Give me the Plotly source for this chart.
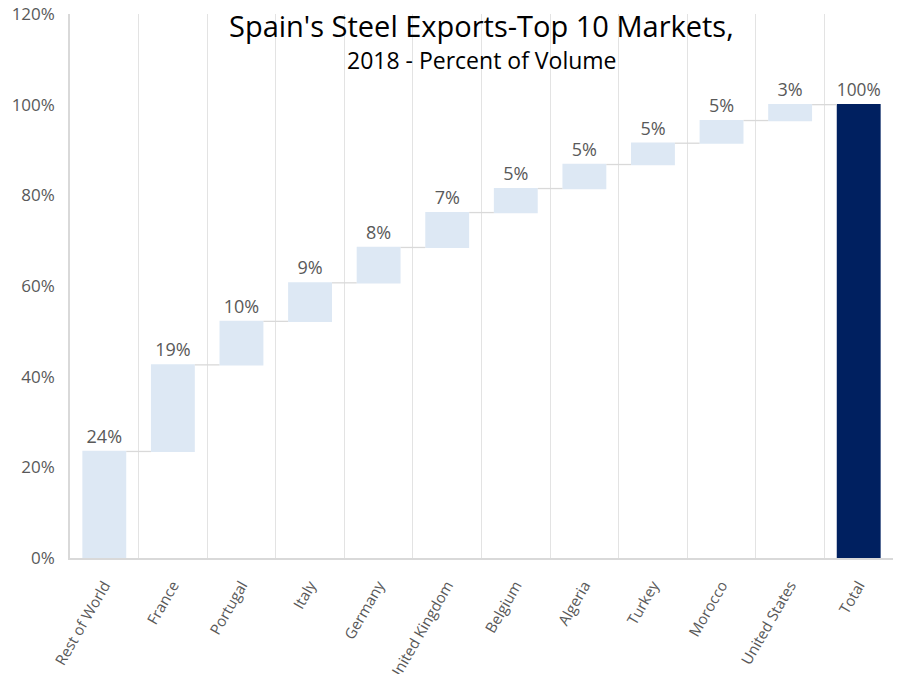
import plotly.graph_objects as go

categories = ["Rest of World", "France", "Portugal", "Italy", "Germany", "United Kingdom",
              "Belgium", "Algeria", "Turkey", "Morocco", "United States", "Total"]
shares = [23.5, 19.1, 9.6, 8.5, 7.8, 7.7, 5.3, 5.3, 4.7, 5.0, 3.5, None]
labels = ["24%", "19%", "10%", "9%", "8%", "7%", "5%", "5%", "5%", "5%", "3%", "100%"]
measures = ["relative"] * 11 + ["total"]

y_vals = [v if v is not None else 0 for v in shares]

FONT = "Open Sans, sans-serif"

M_L, M_R, M_T, M_B = 70, 8, 14, 116
PLOT_H = 674 - M_T - M_B

fig = go.Figure(go.Waterfall(
    x=categories,
    y=y_vals,
    measure=measures,
    text=labels,
    textposition="outside",
    textfont=dict(family=FONT, size=18, color="#595959"),
    increasing=dict(marker=dict(color="#DDE8F4", line=dict(width=0))),
    totals=dict(marker=dict(color="#002060", line=dict(width=0))),
    connector=dict(line=dict(color="#D9D9D9", width=1.3)),
    width=0.64,
    cliponaxis=False,
    hoverinfo="skip",
))

fig.update_layout(
    width=901, height=674,
    margin=dict(l=M_L, r=M_R, t=M_T, b=M_B),
    paper_bgcolor="white", plot_bgcolor="white",
    showlegend=False,
    font=dict(family=FONT, color="#595959"),
)

fig.add_annotation(text="Spain's Steel Exports-Top 10 Markets,", xref="paper", yref="paper",
                   x=0.5, y=1.0 - (25 - M_T) / PLOT_H, yanchor="middle", showarrow=False,
                   font=dict(size=29, color="black", family=FONT))
fig.add_annotation(text="2018 - Percent of Volume", xref="paper", yref="paper",
                   x=0.5, y=1.0 - (60 - M_T) / PLOT_H, yanchor="middle", showarrow=False,
                   font=dict(size=23, color="black", family=FONT))

fig.update_xaxes(
    type="category",
    automargin=False,
    tickson="boundaries",
    showgrid=True, gridcolor="#E3E3E3", gridwidth=1,
    showline=True, linecolor="#D9D9D9", linewidth=1.5,
    ticks="",
    tickangle=-60,
    ticklabelstandoff=11,
    tickfont=dict(size=15, color="#595959", family=FONT),
)
fig.update_yaxes(
    automargin=False,
    range=[0, 120], dtick=20, ticksuffix="%",
    showgrid=False, zeroline=False,
    showline=True, linecolor="#D9D9D9", linewidth=1.5,
    ticks="",
    ticklabelstandoff=10,
    ticklabeloverflow="allow",
    tickfont=dict(size=17, color="#595959", family=FONT),
)

fig.write_html("out.html", config={"displayModeBar": False},
               post_script="document.body.style.margin='0';")
